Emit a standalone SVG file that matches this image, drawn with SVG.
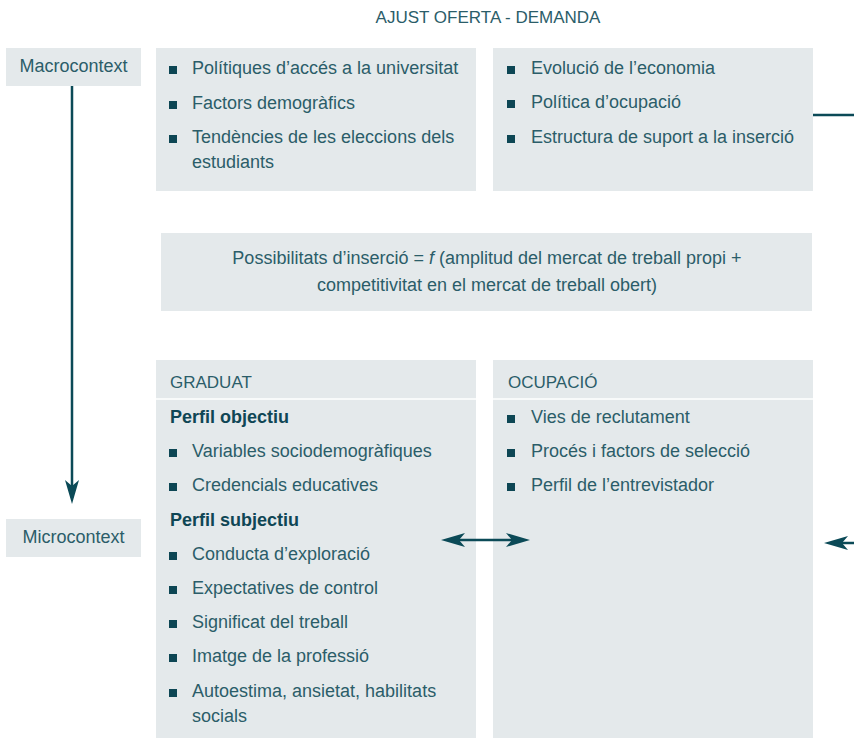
<svg xmlns="http://www.w3.org/2000/svg" width="854" height="738" viewBox="0 0 854 738">
<defs>
<style>
.box{fill:#e4e9eb}
.t{font-family:"Liberation Sans",Arial,sans-serif;font-size:18px;fill:#2b5d69}
.b{font-family:"Liberation Sans",Arial,sans-serif;font-size:18px;font-weight:bold;fill:#0f4655}
.h{font-family:"Liberation Sans",Arial,sans-serif;font-size:17px;fill:#2b5d69}
.bul{fill:#0d4654}
.sep{stroke:#ffffff;stroke-width:1.5}
.con{stroke:#0b4a57;stroke-width:2.5;fill:none}
</style>
<marker id="ah" markerUnits="userSpaceOnUse" viewBox="0 0 24 14" refX="14" refY="7" markerWidth="24" markerHeight="14" orient="auto-start-reverse">
<path d="M0,0 L24,7 L0,14 L6,7 Z" fill="#0b4a57"/>
</marker>
</defs>
<rect width="854" height="738" fill="#ffffff"/>
<g id="title"><text class="h" x="488" y="23" text-anchor="middle">AJUST OFERTA - DEMANDA</text></g>
<g id="macrocontext">
<rect class="box" x="6" y="48" width="135" height="38"/>
<text class="t" x="73.5" y="72" text-anchor="middle">Macrocontext</text>
</g>
<g id="microcontext">
<rect class="box" x="6" y="519" width="135" height="38"/>
<text class="t" x="73.5" y="543" text-anchor="middle">Microcontext</text>
</g>
<g id="macro-left">
<rect class="box" x="156" y="48" width="320" height="143"/>
<rect class="bul" x="169" y="66" width="8" height="8"/>
<text class="t" x="192" y="74">Polítiques d’accés a la universitat</text>
<rect class="bul" x="169" y="101" width="8" height="8"/>
<text class="t" x="192" y="109">Factors demogràfics</text>
<rect class="bul" x="169" y="135" width="8" height="8"/>
<text class="t" x="192" y="143">Tendències de les eleccions dels</text>
<text class="t" x="192" y="168">estudiants</text>
</g>
<g id="macro-right">
<rect class="box" x="493" y="48" width="320" height="143"/>
<rect class="bul" x="507" y="66" width="8" height="8"/>
<text class="t" x="531" y="74">Evolució de l’economia</text>
<rect class="bul" x="507" y="100" width="8" height="8"/>
<text class="t" x="531" y="108">Política d’ocupació</text>
<rect class="bul" x="507" y="135" width="8" height="8"/>
<text class="t" x="531" y="143">Estructura de suport a la inserció</text>
</g>
<g id="possibilitats">
<rect class="box" x="161" y="233" width="651" height="78"/>
<text class="t" x="487" y="264" text-anchor="middle">Possibilitats d’inserció = <tspan font-style="italic">f</tspan> (amplitud del mercat de treball propi +</text>
<text class="t" x="487" y="291" text-anchor="middle">competitivitat en el mercat de treball obert)</text>
</g>
<g id="graduat">
<rect class="box" x="156" y="360" width="320" height="378"/>
<line class="sep" x1="156" y1="399" x2="476" y2="399"/>
<text class="h" x="170" y="388">GRADUAT</text>
<text class="b" x="170" y="423">Perfil objectiu</text>
<rect class="bul" x="169" y="449" width="8" height="8"/>
<text class="t" x="192" y="457">Variables sociodemogràfiques</text>
<rect class="bul" x="169" y="483" width="8" height="8"/>
<text class="t" x="192" y="491">Credencials educatives</text>
<text class="b" x="170" y="526">Perfil subjectiu</text>
<rect class="bul" x="169" y="552" width="8" height="8"/>
<text class="t" x="192" y="560">Conducta d’exploració</text>
<rect class="bul" x="169" y="586" width="8" height="8"/>
<text class="t" x="192" y="594">Expectatives de control</text>
<rect class="bul" x="169" y="620" width="8" height="8"/>
<text class="t" x="192" y="628">Significat del treball</text>
<rect class="bul" x="169" y="654" width="8" height="8"/>
<text class="t" x="192" y="662">Imatge de la professió</text>
<rect class="bul" x="169" y="689" width="8" height="8"/>
<text class="t" x="192" y="697">Autoestima, ansietat, habilitats</text>
<text class="t" x="192" y="722">socials</text>
</g>
<g id="ocupacio">
<rect class="box" x="493" y="360" width="320" height="378"/>
<line class="sep" x1="493" y1="399" x2="813" y2="399"/>
<text class="h" x="508" y="388">OCUPACIÓ</text>
<rect class="bul" x="507" y="415" width="8" height="8"/>
<text class="t" x="531" y="423">Vies de reclutament</text>
<rect class="bul" x="507" y="449" width="8" height="8"/>
<text class="t" x="531" y="457">Procés i factors de selecció</text>
<rect class="bul" x="507" y="483" width="8" height="8"/>
<text class="t" x="531" y="491">Perfil de l’entrevistador</text>
</g>
<g id="connectors">
<line class="con" x1="72" y1="86" x2="72" y2="494" marker-end="url(#ah)"/>
<line class="con" x1="451" y1="540" x2="520" y2="540" marker-start="url(#ah)" marker-end="url(#ah)"/>
<line class="con" x1="813" y1="115" x2="854" y2="115"/>
<line class="con" x1="860" y1="543" x2="834" y2="543" marker-end="url(#ah)"/>
</g>
</svg>
